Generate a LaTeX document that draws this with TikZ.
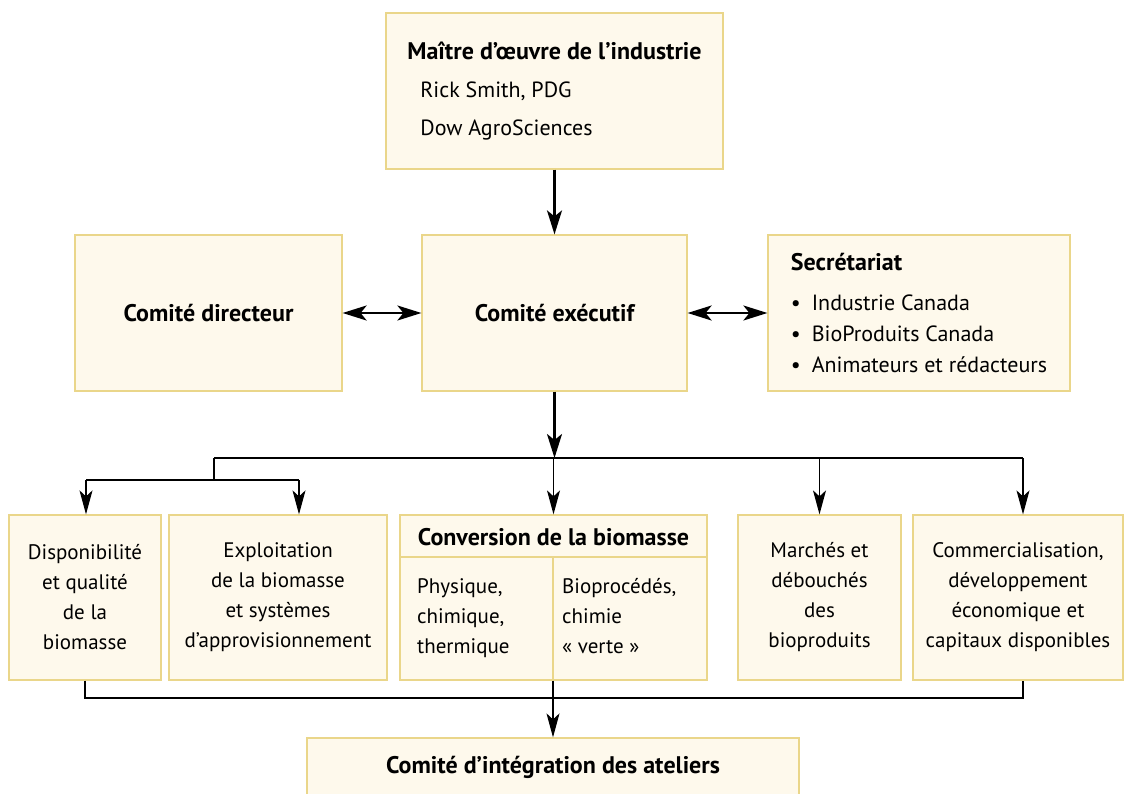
\documentclass[tikz,border=0pt]{standalone}
\usepackage{fontspec}
\setmainfont{PT Sans}
\usetikzlibrary{positioning, arrows.meta, calc}
\definecolor{boxfill}{HTML}{FEF9EC}
\definecolor{boxline}{HTML}{EAD68A}
\newcommand{\hd}[1]{{\fontsize{24}{30}\selectfont\bfseries #1}}
\tikzset{
	box/.style={
		draw=boxline,
		fill=boxfill,
		line width=1.2pt,
		rectangle,
		align=center,
		inner sep=0pt,
		font=\fontsize{21}{30}\selectfont
	},
	arrow/.style={
		draw=black,
		line width=2.4pt,
		-{Stealth[length=24pt,width=15pt,inset=6pt]}
	},
	dblarrow/.style={
		arrow,
		{Stealth[length=24pt,width=15pt,inset=6pt]}-{Stealth[length=24pt,width=15pt,inset=6pt]}
	},
	thinarrow/.style={
		draw=black,
		line width=1.3pt,
		-{Stealth[length=24pt,width=13pt,inset=6pt]}
	},
	bus/.style={
		draw=black,
		line width=1.3pt
	},
}

\begin{document}
\begin{tikzpicture}[x=1pt,y=-1pt]
\clip (0,0) rectangle (1125,794);
\fill[white] (0,0) rectangle (1125,794);

% Industry lead
\node[
	box,
	align=left,
	font=\fontsize{22}{38}\selectfont,
	minimum width=337pt,
	minimum height=156pt
] (Lead) at (554.5,91) {\hd{Maître d’œuvre de l’industrie}\\
	\hspace*{13pt}Rick Smith, PDG\\
	\hspace*{13pt}Dow AgroSciences};

% Committees
\node[box, minimum width=267pt, minimum height=156pt] (Dir) at (208.5,313) {\hd{Comité directeur}};
\node[box, minimum width=265pt, minimum height=156pt] (Exec) at (554.5,313) {\hd{Comité exécutif}};
\node[
	box,
	align=left,
	font=\fontsize{22}{31}\selectfont,
	minimum width=302pt,
	minimum height=156pt
] (Sec) at (919,313) {\hd{Secrétariat}\\[9pt]
	•\hspace{0.5em}Industrie Canada\\
	•\hspace{0.5em}BioProduits Canada\\
	•\hspace{0.5em}Animateurs et rédacteurs};

% Workshops
\node[box, minimum width=152pt, minimum height=165pt] (Disp) at (85,597.5) {Disponibilité\\et qualité\\de la\\biomasse};
\node[box, minimum width=218pt, minimum height=165pt] (Expl) at (278,597.5) {Exploitation\\de la biomasse\\et systèmes\\d’approvisionnement};
\node[box, minimum width=307pt, minimum height=165pt] (Conv) at (553.5,597.5) {};
\node[box, minimum width=163pt, minimum height=165pt] (Mar) at (819.5,597.5) {Marchés et\\débouchés\\des\\bioproduits};
\node[box, minimum width=210pt, minimum height=165pt] (Com) at (1018,597.5) {Commercialisation,\\développement\\économique et\\capitaux disponibles};

% Conversion box contents
\coordinate (ConvSplit) at (553,557);
\draw[boxline, line width=1.2pt] (Conv.west |- ConvSplit) -- (Conv.east |- ConvSplit);
\draw[boxline, line width=1.2pt] (ConvSplit) -- (ConvSplit |- Conv.south);
\node[inner sep=0pt] (ConvT) at (553.5,537) {\hd{Conversion de la biomasse}};
\node[font=\fontsize{21}{30}\selectfont, align=left, inner sep=0pt, anchor=north west] (ConvA) at (417,578) {Physique,\\chimique,\\thermique};
\node[font=\fontsize{21}{30}\selectfont, align=left, inner sep=0pt, anchor=north west] (ConvB) at (562,578) {Bioprocédés,\\chimie\\« verte »};

% Integration
\node[box, minimum width=492pt, minimum height=59pt] (Integ) at (553,767.5) {\hd{Comité d’intégration des ateliers}};

% Arrows
\coordinate (BusTop) at (554.5,458);
\coordinate (BusL) at (214,458);
\coordinate (BusR) at (1023,458);
\coordinate (SubL) at (86,480);
\coordinate (SubR) at (299,480);
\coordinate (BusB) at (86,698);

\draw [arrow] (Lead) -- (Exec);
\draw [dblarrow] (Dir) -- (Exec);
\draw [dblarrow] (Exec) -- (Sec);
\draw [arrow] (Exec) -- (BusTop);

\draw [bus] (BusL) -- (BusR);
\draw [bus] (BusL) -- (BusL |- SubL);
\draw [bus] (SubL) -- (SubR);
\draw [thinarrow] (SubL) -- (SubL |- Disp.north);
\draw [thinarrow] (SubR) -- (SubR |- Expl.north);
\draw [thinarrow] (Conv.north |- BusTop) -- (Conv.north);
\draw [thinarrow] (Mar.north |- BusTop) -- (Mar.north);
\draw [thinarrow] (BusR) -- (BusR |- Com.north);

\draw [bus] (Disp.south) -- (Disp.south |- BusB) -- (BusR |- BusB) -- (BusR |- Com.south);
\draw [thinarrow] (ConvSplit |- Conv.south) -- (ConvSplit |- Integ.north);

\end{tikzpicture}
\end{document}
